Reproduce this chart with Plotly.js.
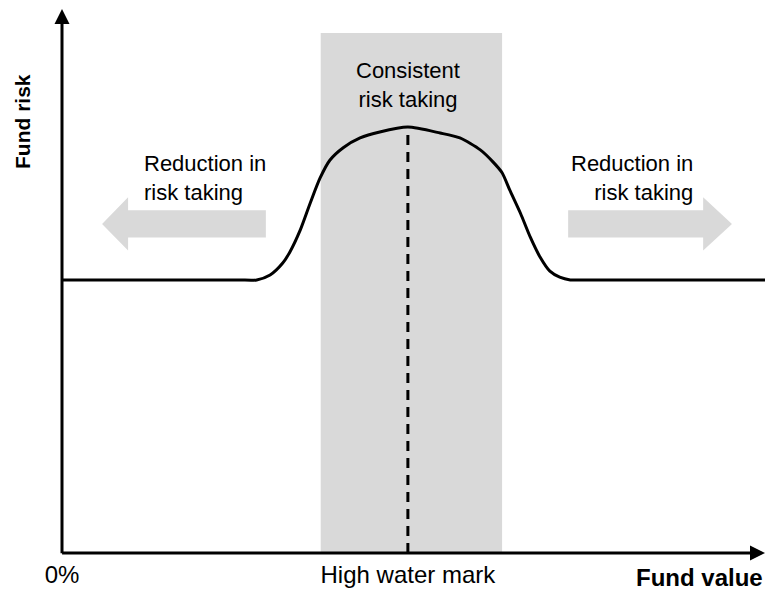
<!DOCTYPE html>
<html>
<head>
<meta charset="utf-8">
<script src="https://cdn.plot.ly/plotly-3.0.1.min.js"></script>
<style>
  html, body { margin: 0; padding: 0; background: #ffffff; }
  #chart { width: 766px; height: 592px; }
</style>
</head>
<body>
<div id="chart"></div>
<script>
// ---- Data (fund value 0-100, fund risk 0-100) ----
var curveFundValue = [0, 25.0, 27.7, 29.6, 31.4, 32.4, 33.9, 35.3, 36.7, 38.1, 40.0, 42.4, 45.2, 49.2,
                      53.8, 56.6, 59.5, 61.3, 62.6, 63.7, 65.2, 66.6, 68.0, 69.4, 70.8, 72.3, 75.0, 100];
var curveFundRisk  = [50.2, 50.2, 50.2, 51.1, 53.3, 55.3, 59.4, 64.3, 68.9, 72.2, 74.5, 76.3, 77.4, 78.3,
                      77.2, 76.3, 74.1, 71.9, 69.9, 66.7, 62.5, 58.1, 54.4, 51.8, 50.7, 50.2, 50.2, 50.2];

var highWaterMark = 49.2;          // fund value of the high water mark
var peakRisk = 78.3;               // risk at the high water mark
var consistentBand = [36.8, 62.6]; // fund value range of "consistent risk taking"
var bandTop = 95.6;

var tickValues = [0, highWaterMark];
var tickLabels = ['0%', 'High water mark'];

// left / right "reduction" arrows: [tail, headBase, tip], centre, body half-height, head half-height
var leftArrowX  = [29.0, 9.4, 5.7];
var rightArrowX = [72.0, 91.2, 95.3];
var arrowCentre = 60.5;
var arrowBodyHalf = 2.5;
var arrowHeadHalf = 4.9;

var labelLeft = 'Reduction in<br>risk taking';
var labelRight = 'Reduction in<br>risk taking';
var labelMiddle = 'Consistent<br>risk taking';

// ---- build arrow polygons from the values above ----
function arrowPoly(ax) {
  var t = ax[0], b = ax[1], p = ax[2], c = arrowCentre;
  return {
    x: [t, b, b, p, b, b, t, t],
    y: [c + arrowBodyHalf, c + arrowBodyHalf, c + arrowHeadHalf, c, c - arrowHeadHalf, c - arrowBodyHalf, c - arrowBodyHalf, c + arrowBodyHalf]
  };
}
var la = arrowPoly(leftArrowX), ra = arrowPoly(rightArrowX);
var grey = '#d9d9d9';
var FONT = '"Liberation Sans", Arial, sans-serif';

var traces = [
  { x: la.x, y: la.y, mode: 'lines', fill: 'toself', fillcolor: grey, line: { width: 0, color: grey }, hoverinfo: 'skip', showlegend: false },
  { x: ra.x, y: ra.y, mode: 'lines', fill: 'toself', fillcolor: grey, line: { width: 0, color: grey }, hoverinfo: 'skip', showlegend: false },
  { x: [highWaterMark, highWaterMark], y: [0, peakRisk], mode: 'lines',
    line: { color: '#000', width: 3, dash: '10px,7px' }, hoverinfo: 'skip', showlegend: false },
  { x: curveFundValue, y: curveFundRisk, mode: 'lines',
    line: { color: '#000', width: 3, shape: 'spline', smoothing: 0.7 }, showlegend: false }
];

var layout = {
  width: 766, height: 592,
  margin: { l: 62, r: 1, t: 9, b: 39 },
  paper_bgcolor: '#fff', plot_bgcolor: '#fff',
  font: { family: FONT, color: '#000', size: 22 },
  showlegend: false,
  xaxis: {
    range: [0, 100], showgrid: false, zeroline: false, showline: false,
    tickmode: 'array', tickvals: tickValues, ticktext: tickLabels,
    ticks: '', ticklabelstandoff: 5, tickfont: { family: FONT, size: 24, color: '#000' }, fixedrange: true
  },
  yaxis: {
    range: [0, 100], showgrid: false, zeroline: false, showline: false,
    showticklabels: false, ticks: '', fixedrange: true
  },
  shapes: [
    { type: 'rect', xref: 'x', yref: 'y', x0: consistentBand[0], x1: consistentBand[1], y0: 0, y1: bandTop,
      fillcolor: grey, line: { width: 0 }, layer: 'below' }
  ],
  annotations: [
    // axes with arrow heads
    { xref: 'x', yref: 'y', axref: 'x', ayref: 'y', x: 100, y: 0, ax: -0.2, ay: 0, text: '',
      showarrow: true, arrowhead: 2, arrowsize: 1, arrowwidth: 3, arrowcolor: '#000', startstandoff: 0, standoff: 0 },
    { xref: 'x', yref: 'y', axref: 'x', ayref: 'y', x: 0, y: 100, ax: 0, ay: -0.3, text: '',
      showarrow: true, arrowhead: 2, arrowsize: 1, arrowwidth: 3, arrowcolor: '#000', startstandoff: 0, standoff: 0 },
    // region labels
    { xref: 'x', yref: 'y', x: 11.4, y: 69.0, text: labelLeft, showarrow: false, xanchor: 'left', yanchor: 'middle', align: 'left',
      font: { family: FONT, size: 22, color: '#000' } },
    { xref: 'x', yref: 'y', x: 90.0, y: 69.0, text: labelRight, showarrow: false, xanchor: 'right', yanchor: 'middle', align: 'right',
      font: { family: FONT, size: 22, color: '#000' } },
    { xref: 'x', yref: 'y', x: highWaterMark, y: 86.0, text: labelMiddle, showarrow: false, xanchor: 'center', yanchor: 'middle', align: 'center',
      font: { family: FONT, size: 22, color: '#000' } },
    // axis titles
    { xref: 'paper', yref: 'paper', x: 1.0, y: -0.045, text: '<b>Fund value</b>', showarrow: false, xanchor: 'right', yanchor: 'middle',
      font: { family: FONT, size: 24, color: '#000' } },
    { xref: 'paper', yref: 'paper', x: -0.057, y: 0.794, text: '<b>Fund risk</b>', showarrow: false, textangle: -90, xanchor: 'center', yanchor: 'middle',
      font: { family: FONT, size: 21, color: '#000' } }
  ]
};

Plotly.newPlot('chart', traces, layout, { staticPlot: true, displayModeBar: false });
</script>
</body>
</html>
